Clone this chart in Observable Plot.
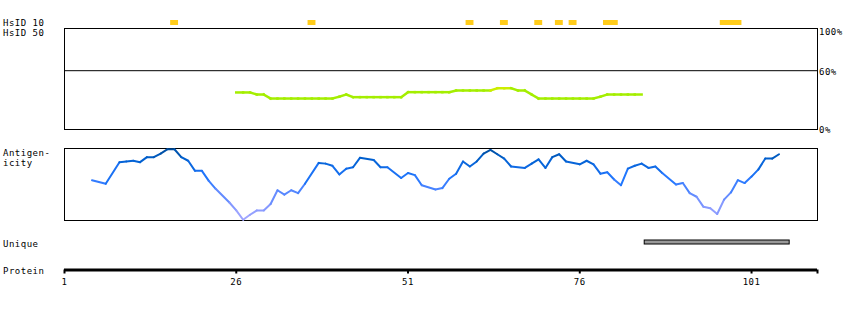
<!DOCTYPE html>
<html><head><meta charset="utf-8">
<script src="https://cdn.jsdelivr.net/npm/d3@7"></script>
<script src="https://cdn.jsdelivr.net/npm/@observablehq/plot@0.6"></script>
<style>
html,body{margin:0;padding:0;background:#fff;}
#chart{position:relative;width:850px;height:310px;overflow:hidden;background:#fff;}
#chart svg{position:absolute;left:0;}
#chart svg text{font-family:"DejaVu Sans Mono",monospace;font-size:9px;letter-spacing:0.5px;fill:#000;}
.lab{position:absolute;left:3px;font:9px/10px "DejaVu Sans Mono",monospace;letter-spacing:0.5px;color:#000;white-space:pre;}
</style></head><body>
<div id="chart">
  <div class="lab" style="top:18px">HsID 10<br>HsID 50</div>
  <div class="lab" style="top:148px">Antigen-<br>icity</div>
  <div class="lab" style="top:239px">Unique</div>
  <div class="lab" style="top:265.5px">Protein</div>
</div>
<script>
// ---- data ----
const proteinLength = 110;
const axisTicks = [1, 26, 51, 76, 101];
const hsid10Residues = [17, 37, 60, 65, 70, 73, 75, 80, 81, 97, 98, 99];
const hsid50Residues = d3.range(26, 86);
const hsid50Values = [37.8,37.8,37.8,35.7,35.7,
  31.6,31.6,31.6,31.6,31.6,31.6,31.6,31.6,31.6,31.6,
  33.5,35.7,
  33.0,33.0,33.0,33.0,33.0,33.0,33.0,33.0,
  38.1,38.1,38.1,38.1,38.1,38.1,38.1,
  39.8,39.8,39.8,39.8,39.8,39.8,
  42.1,42.1,42.1,
  39.8,39.8,35.7,
  31.6,31.6,31.6,31.6,31.6,31.6,31.6,31.6,31.6,
  33.5,35.7,35.7,35.7,35.7,35.7,35.7];
const hsid50Threshold = 60;
const antigenResidues = [5,7,9,10,11,12,13,14,15,16,17,18,19,20,21,22,23,25,26,27,28,29,30,31,32,33,34,35,36,38,39,40,41,42,43,44,46,47,48,50,51,52,53,55,56,57,58,59,60,61,62,63,64,65,66,68,69,70,71,72,73,74,76,77,78,79,80,81,82,83,84,85,86,87,88,90,91,92,93,94,95,96,97,98,99,100,101,102,103,104,105];
const antigenScores = [.56,.51,.81,.82,.83,.81,.88,.88,.93,.99,
  .99,.88,.83,.69,.69,.55,.44,.25,.14,.01,
  .08,.14,.14,.23,.42,.36,.42,.38,.51,.80,
  .79,.76,.64,.72,.74,.87,.84,.74,.74,.59,
  .66,.63,.49,.43,.45,.58,.65,.82,.75,.82,
  .93,.98,.92,.86,.75,.73,.79,.85,.73,.88,
  .92,.82,.78,.83,.78,.65,.67,.57,.49,.72,
  .76,.79,.73,.75,.66,.50,.52,.38,.33,.19,
  .17,.09,.29,.39,.56,.52,.61,.71,.86,.86,
  .92];
const uniqueStart = 86, uniqueEnd = 106;

// ---- build ----
const axisEnd = proteinLength + 0.6;
const xScale = {domain: [1, axisEnd], axis: null};
const chart = document.getElementById("chart");
function add(top, opts) {
  const svg = Plot.plot(Object.assign({
    width: 850, marginLeft: 64, marginRight: 33,
    style: {background: "transparent", overflow: "visible"}
  }, opts));
  svg.style.top = top + "px";
  chart.append(svg);
}
const pairs = (xs, ys) => xs.slice(1).map((x, i) => ({x1: xs[i], y1: ys[i], x2: x, y2: ys[i + 1]}));

// HsID 10 track
add(0, {
  height: 27, marginTop: 0, marginBottom: 0,
  x: xScale, y: {domain: [0, 1], range: [25, 20], axis: null},
  marks: [Plot.rect(hsid10Residues, {x1: d => d - 0.55, x2: d => d + 0.6, y1: 0, y2: 1, fill: "#ffcc1a"})]
});

// HsID 50 panel
const greenSegs = pairs(hsid50Residues, hsid50Values);
add(27, {
  height: 113, marginTop: 1, marginBottom: 11,
  x: xScale, y: {domain: [0, 100], range: [102, 4], label: null},
  color: {type: "threshold", domain: [42], range: ["#a4ee00", "#ccee00"]},
  marks: [
    Plot.frame({stroke: "#000"}),
    Plot.ruleY([hsid50Threshold], {stroke: "#000"}),
    Plot.link(greenSegs, {x1: "x1", y1: "y1", x2: "x2", y2: "y2", stroke: d => d.y2, strokeWidth: 2.5, strokeLinecap: "square"}),
    Plot.axisY({anchor: "right", ticks: [0, 60, 100], tickSize: 0, tickPadding: 1.5, dy: 1, label: null, tickFormat: d => d + "%"})
  ]
});

// Antigenicity panel
const antiSegs = pairs(antigenResidues, antigenScores);
add(140, {
  height: 90, marginTop: 8, marginBottom: 10,
  x: xScale, y: {domain: [0, 1], axis: null},
  color: {type: "linear", domain: [0, 0.3, 0.6, 0.85, 1], range: ["#aaaaff", "#6f8fff", "#2277ff", "#0060d0", "#004c99"]},
  marks: [
    Plot.frame({stroke: "#000"}),
    Plot.link(antiSegs, {x1: "x1", y1: "y1", x2: "x2", y2: "y2", stroke: d => (d.y1 + d.y2) / 2, strokeWidth: 2, strokeLinecap: "round"})
  ]
});

// Unique track
add(230, {
  height: 25, marginTop: 0, marginBottom: 0,
  x: xScale, y: {domain: [0, 1], range: [14, 10], axis: null},
  marks: [Plot.rect([{s: uniqueStart, e: uniqueEnd}], {x1: d => d.s - 0.55, x2: d => d.e + 0.55, y1: 0, y2: 1, fill: "#999999", stroke: "#000"})]
});

// Protein axis
add(255, {
  height: 55, marginTop: 0, marginBottom: 40.5,
  x: {domain: [1, axisEnd]}, y: {domain: [0, 1], axis: null},
  marks: [
    Plot.ruleY([0], {x1: 1, x2: axisEnd, strokeWidth: 3, stroke: "#000"}),
    Plot.axisX({ticks: [...axisTicks, axisEnd], tickSize: 4, tickPadding: 5, strokeWidth: 2, label: null,
      tickFormat: d => d === axisEnd ? "" : String(d)})
  ]
});
</script></body></html>
